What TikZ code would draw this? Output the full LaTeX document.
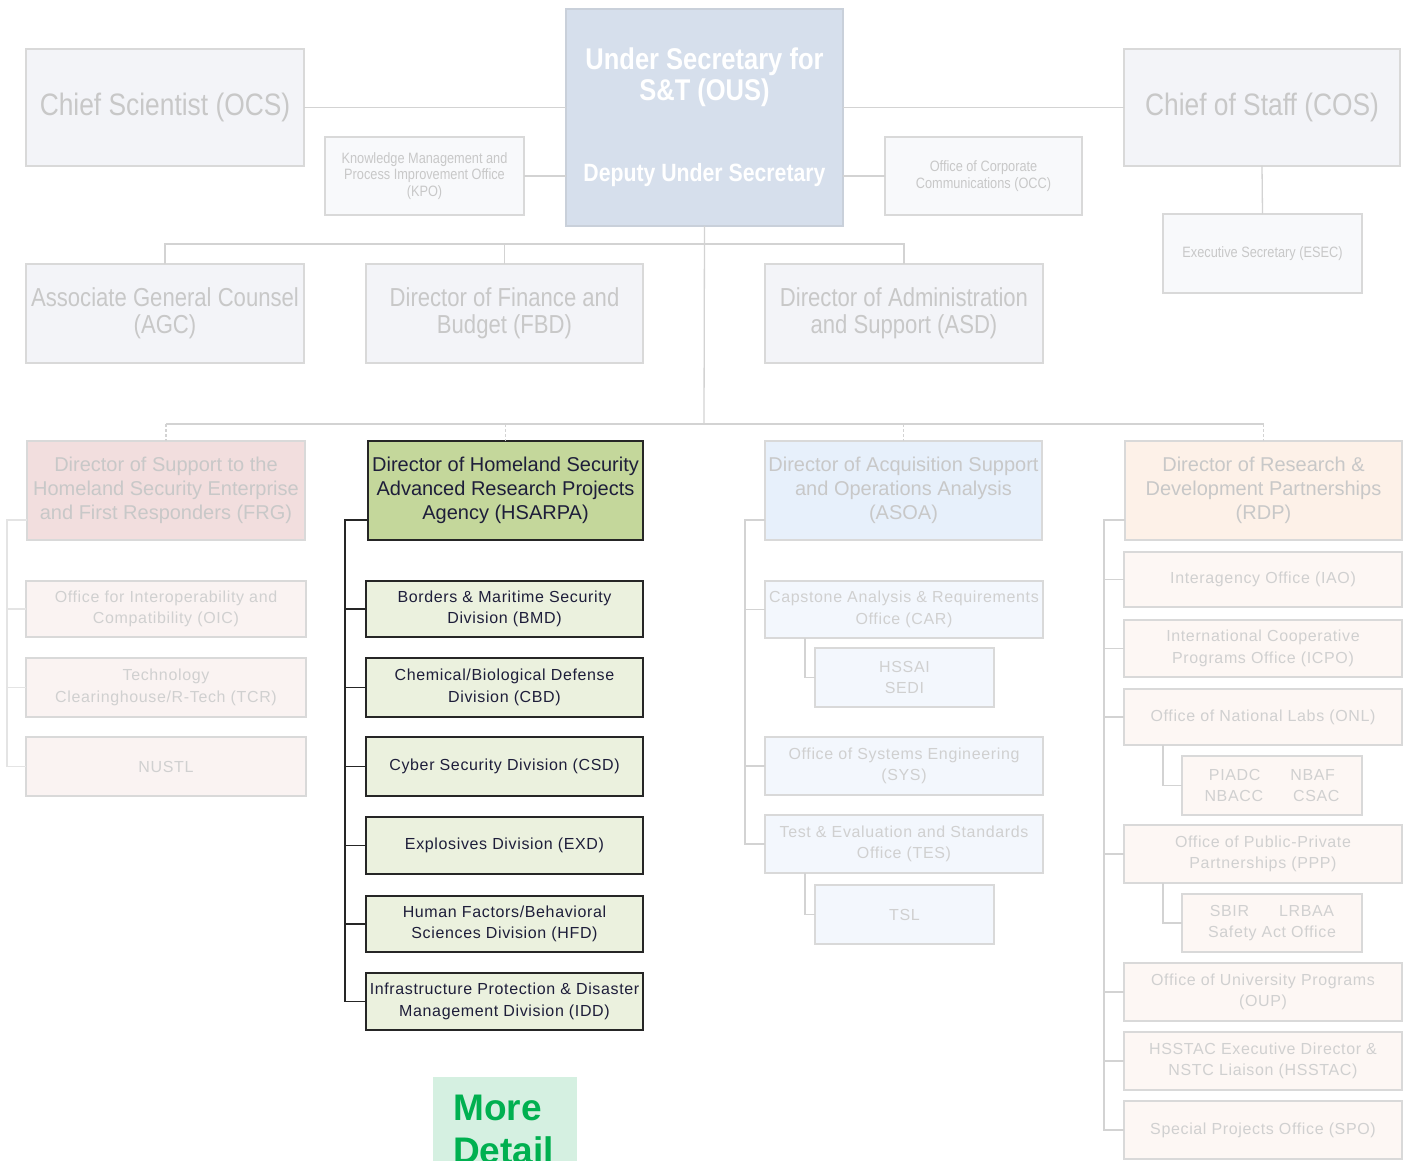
\documentclass[tikz,border=0pt]{standalone}
\usepackage{fontspec}
\setmainfont{Liberation Sans}
\newfontfamily\narrowf[FakeStretch=0.85]{Liberation Sans}
\newfontfamily\spacedf[LetterSpace=4]{Liberation Sans}
\usetikzlibrary{calc}
\definecolor{topFill}{HTML}{F3F4F8}
\definecolor{smallFill}{HTML}{F8F9FB}
\definecolor{boxLine}{HTML}{D9D9D9}
\definecolor{fadeTxt}{HTML}{C8C8C8}
\definecolor{fadeTxtB}{HTML}{D0D0D0}
\definecolor{ousFill}{HTML}{D6DFEC}
\definecolor{ousLine}{HTML}{C9D0DA}
\definecolor{frgFill}{HTML}{F2DEDE}
\definecolor{frgSub}{HTML}{FAF3F2}
\definecolor{hsFill}{HTML}{C4D79B}
\definecolor{hsSub}{HTML}{EBF1DE}
\definecolor{hsTxt}{HTML}{1E1E3A}
\definecolor{asFill}{HTML}{E7F0FB}
\definecolor{asSub}{HTML}{F3F7FD}
\definecolor{rdFill}{HTML}{FDF1E8}
\definecolor{rdSub}{HTML}{FDF7F4}
\definecolor{connLine}{HTML}{D3D3D3}
\definecolor{moreFill}{HTML}{D5F0E1}
\definecolor{moreGreen}{HTML}{00B050}
\newcommand\obox[7]{\node[#2, minimum width={#5-#3}, minimum height={#6-#4}] (#1) at ({(#3+#5)/2},{(#4+#6)/2}) {#7};}
\tikzset{
  boxbase/.style={draw=boxLine, line width=1.3pt, rectangle, inner sep=0pt, outer sep=0pt, align=center},
  topbox/.style={boxbase, fill=topFill, text=fadeTxt, font=\narrowf\fontsize{26}{27}\selectfont},
  bigtop/.style={topbox, font=\narrowf\fontsize{31}{33}\selectfont},
  smallbox/.style={boxbase, fill=smallFill, text=fadeTxt, font=\narrowf\fontsize{15}{16.5}\selectfont},
  ousbox/.style={boxbase, draw=ousLine, fill=ousFill, text=white, font=\narrowf\bfseries\fontsize{30}{31}\selectfont},
  dirbox/.style={boxbase, text=fadeTxt, font=\fontsize{20}{24}\selectfont},
  subbox/.style={boxbase, text=fadeTxtB, font=\spacedf\fontsize{16}{21.5}\selectfont},
  frgdir/.style={dirbox, fill=frgFill},
  frgsub/.style={subbox, fill=frgSub},
  hsdir/.style={dirbox, draw=black!85, fill=hsFill, text=hsTxt},
  hssub/.style={subbox, draw=black!85, fill=hsSub, text=hsTxt},
  asdir/.style={dirbox, fill=asFill},
  assub/.style={subbox, fill=asSub},
  rddir/.style={dirbox, fill=rdFill},
  rdsub/.style={subbox, fill=rdSub},
  ln/.style={draw=connLine, line width=1.3pt},
  dln/.style={draw=black!85, line width=1.3pt},
  dropln/.style={draw=connLine, line width=1.3pt, dash pattern=on 3pt off 2pt},
}
\begin{document}
\begin{tikzpicture}[x=1pt,y=-1pt]
\useasboundingbox (0,0) rectangle (1403,1161);
\clip (0,0) rectangle (1403,1161);
\fill[white] (0,0) rectangle (1403,1161);
% ---- top level
\obox{ous}{ousbox}{566}{9}{843}{226}{Under Secretary for\\S\&T (OUS)\\[50pt]\fontsize{25}{31}\selectfont Deputy Under Secretary}
\obox{ocs}{bigtop}{26}{49}{304}{166}{Chief Scientist (OCS)}
\obox{cos}{bigtop}{1124}{49}{1400}{166}{Chief of Staff (COS)}
\obox{kpo}{smallbox}{325}{137}{524}{215}{Knowledge Management and\\Process Improvement Office\\(KPO)}
\obox{occ}{smallbox}{885}{137}{1082}{215}{Office of Corporate\\Communications (OCC)}
\obox{esec}{smallbox}{1163}{214}{1362}{293}{Executive Secretary (ESEC)}
\obox{agc}{topbox}{26}{264}{304}{363}{Associate General Counsel\\(AGC)}
\obox{fbd}{topbox}{366}{264}{643}{363}{Director of Finance and\\Budget (FBD)}
\obox{asd}{topbox}{765}{264}{1043}{363}{Director of Administration\\and Support (ASD)}
% ---- directors
\obox{frg}{frgdir}{27}{441}{305}{540}{Director of Support to the\\Homeland Security Enterprise\\and First Responders (FRG)}
\obox{hsarpa}{hsdir}{368}{441}{643}{540}{Director of Homeland Security\\Advanced Research Projects\\Agency (HSARPA)}
\obox{asoa}{asdir}{765}{441}{1042}{540}{Director of Acquisition Support\\and Operations Analysis\\(ASOA)}
\obox{rdp}{rddir}{1125}{441}{1402}{540}{Director of Research \&\\Development Partnerships\\(RDP)}
% ---- FRG column
\obox{oic}{frgsub}{26}{581}{306}{637}{Office for Interoperability and\\Compatibility (OIC)}
\obox{tcr}{frgsub}{26}{658}{306}{717}{Technology\\Clearinghouse/R-Tech (TCR)}
\obox{nustl}{frgsub}{26}{737}{306}{796}{NUSTL}
% ---- HSARPA column
\obox{bmd}{hssub}{366}{581}{643}{637}{Borders \& Maritime Security\\Division (BMD)}
\obox{cbd}{hssub}{366}{658}{643}{717}{Chemical/Biological Defense\\Division (CBD)}
\obox{csd}{hssub}{366}{737}{643}{796}{Cyber Security Division (CSD)}
\obox{exd}{hssub}{366}{817}{643}{874}{Explosives Division (EXD)}
\obox{hfd}{hssub}{366}{896}{643}{952}{Human Factors/Behavioral\\Sciences Division (HFD)}
\obox{idd}{hssub}{366}{973}{643}{1030}{Infrastructure Protection \& Disaster\\Management Division (IDD)}
% ---- ASOA column
\obox{car}{assub}{765}{581}{1043}{638}{Capstone Analysis \& Requirements\\Office (CAR)}
\obox{hssai}{assub}{815}{648}{994}{707}{HSSAI\\SEDI}
\obox{sys}{assub}{765}{737}{1043}{795}{Office of Systems Engineering\\(SYS)}
\obox{tes}{assub}{765}{815}{1043}{873}{Test \& Evaluation and Standards\\Office (TES)}
\obox{tsl}{assub}{815}{885}{994}{944}{TSL}
% ---- RDP column
\obox{iao}{rdsub}{1124}{552}{1402}{607}{Interagency Office (IAO)}
\obox{icpo}{rdsub}{1124}{620}{1402}{677}{International Cooperative\\Programs Office (ICPO)}
\obox{onl}{rdsub}{1124}{689}{1402}{745}{Office of National Labs (ONL)}
\obox{labs}{rdsub}{1182}{756}{1362}{815}{PIADC\hspace{30pt}NBAF\\NBACC\hspace{30pt}CSAC}
\obox{ppp}{rdsub}{1124}{825}{1402}{883}{Office of Public-Private\\Partnerships (PPP)}
\obox{sbir}{rdsub}{1182}{894}{1362}{952}{SBIR\hspace{30pt}LRBAA\\Safety Act Office}
\obox{oup}{rdsub}{1124}{963}{1402}{1021}{Office of University Programs\\(OUP)}
\obox{hsstac}{rdsub}{1124}{1032}{1402}{1090}{HSSTAC Executive Director \&\\NSTC Liaison (HSSTAC)}
\obox{spo}{rdsub}{1124}{1101}{1402}{1159}{Special Projects Office (SPO)}
% ---- More Detail
\node[fill=moreFill, minimum width=144pt, minimum height=95pt, anchor=north west, inner sep=0pt] (more) at (433,1077) {};
\node[anchor=north west, inner sep=0pt, align=left, text=moreGreen, font=\bfseries\fontsize{37}{43}\selectfont] (moretxt) at (453,1095) {More\\Detail};
% ---- connectors, top
\coordinate (b1) at (704,244);
\coordinate (b2) at (704,424);
\draw[ln] (ocs.east) -- (ocs.east -| ous.west);
\draw[ln] (cos.west) -- (cos.west -| ous.east);
\draw[ln] (kpo.east) -- (kpo.east -| ous.west);
\draw[ln] (occ.west) -- (occ.west -| ous.east);
\draw[ln] (cos.south) -- (esec.north);
\draw[ln] (ous.south) -- (b2);
\draw[ln] (agc.north) -- (agc.north |- b1) -- (asd.north |- b1) -- (asd.north);
\draw[ln] (fbd.north |- b1) -- (fbd.north);
\draw[ln] (frg.north |- b2) -- (rdp.north |- b2);
\draw[dropln] (frg.north |- b2) -- (frg.north);
\draw[dropln] (hsarpa.north |- b2) -- (hsarpa.north);
\draw[dropln] (asoa.north |- b2) -- (asoa.north);
\draw[dropln] (rdp.north |- b2) -- (rdp.north);
% ---- FRG tree
\coordinate (ft) at (7,520);
\draw[ln, draw=boxLine!70] (frg.west |- ft) -- (ft) -- (ft |- nustl.west) -- (nustl.west);
\draw[ln, draw=boxLine!70] (ft |- oic.west) -- (oic.west);
\draw[ln, draw=boxLine!70] (ft |- tcr.west) -- (tcr.west);
% ---- HSARPA tree
\coordinate (ht) at (345,520);
\draw[dln] (hsarpa.west |- ht) -- (ht) -- (ht |- idd.west) -- (idd.west);
\foreach \n in {bmd,cbd,csd,exd,hfd} \draw[dln] (ht |- \n.west) -- (\n.west);
% ---- ASOA tree
\coordinate (at) at (745,520);
\draw[ln] (asoa.west |- at) -- (at) -- (at |- tes.west) -- (tes.west);
\draw[ln] (at |- car.west) -- (car.west);
\draw[ln] (at |- sys.west) -- (sys.west);
\coordinate (ac) at (805,0);
\draw[ln] (car.south -| ac) |- (hssai.west);
\draw[ln] (tes.south -| ac) |- (tsl.west);
% ---- RDP tree
\coordinate (rt) at (1104,520);
\draw[ln] (rdp.west |- rt) -- (rt) -- (rt |- spo.west) -- (spo.west);
\foreach \n in {iao,icpo,onl,ppp,oup,hsstac} \draw[ln] (rt |- \n.west) -- (\n.west);
\coordinate (rc) at (1163,0);
\draw[ln] (onl.south -| rc) |- (labs.west);
\draw[ln] (ppp.south -| rc) |- (sbir.west);
\end{tikzpicture}
\end{document}
